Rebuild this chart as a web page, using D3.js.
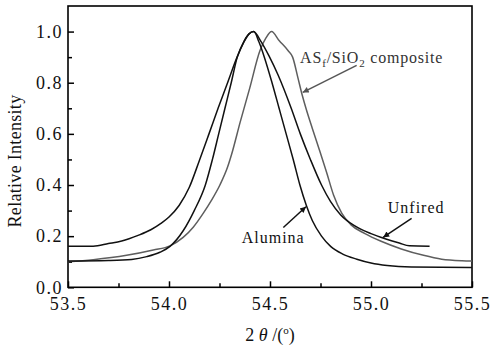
<!DOCTYPE html>
<html>
<head>
<meta charset="utf-8">
<script src="https://cdn.jsdelivr.net/npm/d3@7"></script>
<style>
  body { margin: 0; background: #fff; }
  svg text { font-family: "Liberation Serif", "Times New Roman", serif; }
</style>
</head>
<body>
<svg id="graphe" width="492" height="346"></svg>
<script>
// Données : [2θ, intensité relative]
const unfired = [
  [53.5, 0.161], [53.625, 0.161], [53.70, 0.171], [53.766, 0.181], [53.847, 0.203],
  [53.91, 0.225], [53.96, 0.25], [54.0, 0.275], [54.05, 0.32], [54.10, 0.39],
  [54.15, 0.495], [54.197, 0.598], [54.243, 0.70], [54.29, 0.80], [54.337, 0.90],
  [54.37, 0.958], [54.395, 0.99], [54.418, 1.0], [54.455, 0.962], [54.495, 0.905],
  [54.54, 0.83], [54.605, 0.70], [54.65, 0.60], [54.70, 0.50], [54.755, 0.40],
  [54.80, 0.335], [54.85, 0.283], [54.92, 0.24], [55.0, 0.21], [55.07, 0.19],
  [55.14, 0.173], [55.19, 0.162], [55.29, 0.161]
]
const alumina = [
  [53.5, 0.103], [53.7, 0.105], [53.815, 0.109], [53.89, 0.12], [53.955, 0.137],
  [54.005, 0.16], [54.071, 0.222], [54.125, 0.30], [54.18, 0.40], [54.215, 0.50],
  [54.246, 0.60], [54.277, 0.70], [54.308, 0.80], [54.338, 0.90], [54.37, 0.96],
  [54.395, 0.99], [54.42, 1.0], [54.445, 0.96], [54.472, 0.90], [54.51, 0.80],
  [54.545, 0.70], [54.58, 0.60], [54.615, 0.50], [54.648, 0.40], [54.68, 0.32],
  [54.71, 0.26], [54.755, 0.20], [54.80, 0.16], [54.86, 0.13], [54.93, 0.11],
  [55.0, 0.095], [55.08, 0.085], [55.2, 0.079], [55.5, 0.077]
]
const composite = [
  [53.5, 0.10], [53.625, 0.108], [53.79, 0.125], [53.922, 0.146], [54.005, 0.162],
  [54.07, 0.195], [54.12, 0.235], [54.17, 0.29], [54.21, 0.34], [54.252, 0.40],
  [54.29, 0.47], [54.31, 0.52], [54.352, 0.645], [54.40, 0.78], [54.45, 0.925],
  [54.48, 0.975], [54.508, 1.0], [54.545, 0.965], [54.59, 0.925], [54.612, 0.90],
  [54.638, 0.82], [54.66, 0.75], [54.678, 0.70], [54.71, 0.62], [54.745, 0.536],
  [54.78, 0.45], [54.815, 0.36], [54.855, 0.29], [54.9, 0.245], [54.97, 0.21],
  [55.05, 0.18], [55.15, 0.15], [55.26, 0.125], [55.35, 0.11], [55.45, 0.104],
  [55.5, 0.103]
]
const xTicks = [53.5, 54.0, 54.5, 55.0, 55.5]
const xMinor = [53.75, 54.25, 54.75, 55.25]
const yTicks = [0.0, 0.2, 0.4, 0.6, 0.8, 1.0]
const yMinor = [0.1, 0.3, 0.5, 0.7, 0.9]

// DIMENSIONS
const largeur = 492, hauteur = 346
const marge = {haut: 6, droite: 20, bas: 58.7, gauche: 68}
const svg = d3.select('#graphe')

const x = d3.scaleLinear().domain([53.5, 55.5]).range([marge.gauche, largeur - marge.droite])
const y = d3.scaleLinear().domain([0, 1.1]).range([hauteur - marge.bas, marge.haut])

// Pointes de flèche
svg.append('defs').selectAll('marker')
    .data([['pointeNoire', '#111'], ['pointeGrise', '#555']])
    .join('marker')
    .attr('id', d => d[0])
    .attr('viewBox', '0 0 10 10')
    .attr('refX', 10).attr('refY', 5)
    .attr('markerWidth', 9).attr('markerHeight', 6)
    .attr('markerUnits', 'userSpaceOnUse')
    .attr('orient', 'auto')
    .append('path')
    .attr('d', 'M0,0 L10,5 L0,10 Z')
    .attr('fill', d => d[1])

// AXES
svg.append('g')
    .attr('transform', `translate(0,${y(0)})`)
    .call(d3.axisBottom(x).tickValues(xTicks).tickFormat(d3.format('.1f'))
        .tickSizeInner(-6).tickSizeOuter(0).tickPadding(10))
svg.append('g')
    .attr('transform', `translate(0,${y(0)})`)
    .call(d3.axisBottom(x).tickValues(xMinor).tickFormat('').tickSizeInner(-4).tickSizeOuter(0))
    .select('.domain').remove()

svg.append('g')
    .attr('transform', `translate(${x(53.5)},0)`)
    .call(d3.axisLeft(y).tickValues(yTicks).tickFormat(d3.format('.1f'))
        .tickSizeInner(-6).tickSizeOuter(0).tickPadding(5))
svg.append('g')
    .attr('transform', `translate(${x(53.5)},0)`)
    .call(d3.axisLeft(y).tickValues(yMinor).tickFormat('').tickSizeInner(-4).tickSizeOuter(0))
    .select('.domain').remove()

svg.selectAll('.tick line').attr('stroke', '#000').attr('stroke-width', 1.5)
svg.selectAll('.tick text')
    .attr('fill', '#111')
    .style('font-size', '18px')
    .style('letter-spacing', '1.5px')
    .style('font-family', '"Liberation Serif", serif')

// Cadre
svg.append('rect')
    .attr('x', x(53.5)).attr('y', y(1.1))
    .attr('width', x(55.5) - x(53.5)).attr('height', y(0) - y(1.1))
    .attr('fill', 'none').attr('stroke', '#000').attr('stroke-width', 1.6)
svg.selectAll('.domain').attr('stroke', 'none')

// COURBES
const ligne = d3.line().x(d => x(d[0])).y(d => y(d[1])).curve(d3.curveMonotoneX)
svg.append('path').datum(composite).attr('d', ligne)
    .attr('fill', 'none').attr('stroke', '#5e5e5e').attr('stroke-width', 1.5)
svg.append('path').datum(alumina).attr('d', ligne)
    .attr('fill', 'none').attr('stroke', '#111').attr('stroke-width', 1.5)
svg.append('path').datum(unfired).attr('d', ligne)
    .attr('fill', 'none').attr('stroke', '#111').attr('stroke-width', 1.5)

// ANNOTATIONS
const txtComposite = svg.append('text')
    .attr('x', x(54.649)).attr('y', y(0.876))
    .attr('fill', '#333').style('font-size', '16px').style('letter-spacing', '0.8px')
txtComposite.append('tspan').text('AS')
txtComposite.append('tspan').text('f').attr('dy', 4).style('font-size', '11px')
txtComposite.append('tspan').text('/SiO').attr('dy', -4)
txtComposite.append('tspan').text('2').attr('dy', 4).style('font-size', '11px')
txtComposite.append('tspan').text(' composite').attr('dy', -4)
svg.append('line')
    .attr('x1', x(54.929)).attr('y1', y(0.868))
    .attr('x2', x(54.662)).attr('y2', y(0.762))
    .attr('stroke', '#555').attr('stroke-width', 1.5)
    .attr('marker-end', 'url(#pointeGrise)')

svg.append('text')
    .attr('x', x(55.083)).attr('y', y(0.291))
    .attr('fill', '#111').style('font-size', '16px').style('letter-spacing', '1px')
    .text('Unfired')
svg.append('line')
    .attr('x1', x(55.201)).attr('y1', y(0.27))
    .attr('x2', x(55.06)).attr('y2', y(0.195))
    .attr('stroke', '#111').attr('stroke-width', 1.5)
    .attr('marker-end', 'url(#pointeNoire)')

svg.append('text')
    .attr('x', x(54.36)).attr('y', y(0.174))
    .attr('fill', '#111').style('font-size', '16px').style('letter-spacing', '1px')
    .text('Alumina')
svg.append('line')
    .attr('x1', x(54.566)).attr('y1', y(0.234))
    .attr('x2', x(54.678)).attr('y2', y(0.315))
    .attr('stroke', '#111').attr('stroke-width', 1.5)
    .attr('marker-end', 'url(#pointeNoire)')

// TITRES DES AXES
svg.append('text')
    .attr('transform', 'translate(21,161) rotate(-90)')
    .attr('text-anchor', 'middle')
    .attr('fill', '#111').style('font-size', '18px').style('letter-spacing', '0.3px')
    .text('Relative Intensity')

const titreX = svg.append('text')
    .attr('x', (x(53.5) + x(55.5)) / 2).attr('y', 341)
    .attr('text-anchor', 'middle')
    .attr('fill', '#111').style('font-size', '18px')
titreX.append('tspan').text('2 ')
titreX.append('tspan').text('θ').style('font-style', 'italic')
titreX.append('tspan').text(' /(')
titreX.append('tspan').text('o').attr('dy', -7).style('font-size', '11px')
titreX.append('tspan').text(')').attr('dy', 7)
</script>
</body>
</html>
